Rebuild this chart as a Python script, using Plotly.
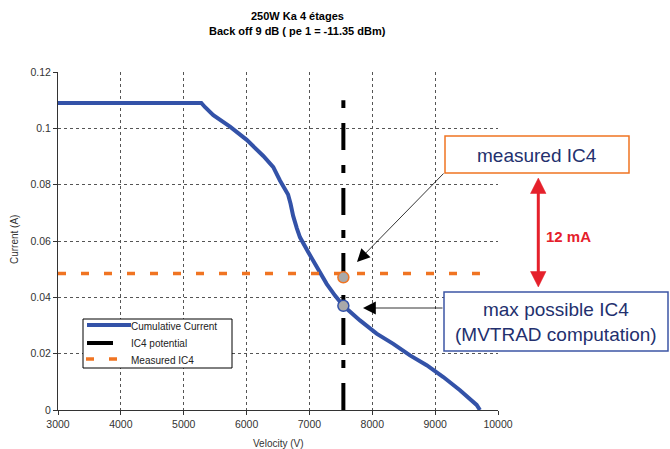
import plotly.graph_objects as go

# ---------------- data ----------------
velocity = [3000, 5280, 5340, 5471, 5736, 6002, 6266, 6425, 6531, 6600, 6660, 6700,
            6740, 6800, 6850, 6982, 7116, 7274, 7407, 7540, 7804, 8069, 8334, 8600,
            8865, 9130, 9395, 9554, 9660, 9713]
current = [0.109, 0.109, 0.1075, 0.1047, 0.1006, 0.0959, 0.0902, 0.0862, 0.0815, 0.0790,
           0.0765, 0.0732, 0.0690, 0.0645, 0.0613, 0.0560, 0.0507, 0.0448, 0.0406, 0.0370,
           0.0318, 0.0271, 0.0235, 0.0194, 0.0159, 0.0117, 0.0070, 0.0041, 0.0018, 0.0]

ic4_potential_x = [7540, 7540]
ic4_potential_y = [0.0, 0.110]

measured_x = [3000, 9713]
measured_y = [0.0485, 0.0485]

measured_point = (7540, 0.0471)
max_point = (7540, 0.0370)

series_names = ["Cumulative Current", "IC4 potential", "Measured IC4"]

x_ticks = [3000, 4000, 5000, 6000, 7000, 8000, 9000, 10000]
x_tick_labels = ["3000", "4000", "5000", "6000", "7000", "8000", "9000", "10000"]
y_ticks = [0, 0.02, 0.04, 0.06, 0.08, 0.1, 0.12]
y_tick_labels = ["0", "0.02", "0.04", "0.06", "0.08", "0.1", "0.12"]

# ---------------- geometry helpers (pixel -> paper) ----------------
W, H = 670, 449
L, R, T, B = 58, 498, 72, 410


def px(x):
    return (x - L) / (R - L)


def py(y):
    return (B - y) / (B - T)


FONT = "Liberation Sans, Arial, sans-serif"
BLUE = "#3352a8"
ORANGE = "#f07422"
NAVY = "#23306e"
RED = "#e5202b"
DASHDOT = "27px,15px,8px,15px"
ORDASH = "8px,15px"

fig = go.Figure()

fig.add_trace(go.Scatter(x=velocity, y=current, mode="lines", name=series_names[0],
                         line=dict(color=BLUE, width=4), showlegend=False))
fig.add_trace(go.Scatter(x=ic4_potential_x, y=ic4_potential_y, mode="lines", name=series_names[1],
                         line=dict(color="black", width=4, dash=DASHDOT), showlegend=False))
fig.add_trace(go.Scatter(x=measured_x, y=measured_y, mode="lines", name=series_names[2],
                         line=dict(color=ORANGE, width=3.5, dash=ORDASH), showlegend=False))
fig.add_trace(go.Scatter(x=[measured_point[0]], y=[measured_point[1]], mode="markers", showlegend=False,
                         marker=dict(size=11, color="#a9a9a9", line=dict(color=ORANGE, width=1.5))))
fig.add_trace(go.Scatter(x=[max_point[0]], y=[max_point[1]], mode="markers", showlegend=False,
                         marker=dict(size=11, color="#a9a9a9", line=dict(color=BLUE, width=1.5))))

axis_common = dict(showgrid=True, gridcolor="#555555", griddash="dot", gridwidth=1,
                   showline=True, linecolor="#333333", linewidth=1, zeroline=False,
                   ticks="outside", ticklen=4, tickcolor="#333333",
                   tickfont=dict(family=FONT, size=10.5, color="#333333"))

fig.update_xaxes(range=[3000, 10000], tickvals=x_ticks, ticktext=x_tick_labels, **axis_common)
fig.update_yaxes(range=[0, 0.12], tickvals=y_ticks, ticktext=y_tick_labels, **axis_common)


def pline(x0, y0, x1, y1, color, width, dash="solid"):
    return dict(type="line", xref="paper", yref="paper", x0=px(x0), x1=px(x1), y0=py(y0), y1=py(y1),
                line=dict(color=color, width=width, dash=dash), layer="above")


shapes = [
    # legend box (manual)
    dict(type="rect", xref="paper", yref="paper", x0=px(83), x1=px(232), y0=py(368), y1=py(319),
         line=dict(color="black", width=1), fillcolor="white", layer="above"),
    pline(87, 325, 131, 325, BLUE, 4),
    pline(87, 343, 113, 343, "black", 4),
    pline(86, 359, 94, 359, ORANGE, 3.5),
    pline(109, 359, 117, 359, ORANGE, 3.5),
    # measured IC4 box
    dict(type="rect", xref="paper", yref="paper", x0=px(445), x1=px(629), y0=py(173), y1=py(136),
         line=dict(color=ORANGE, width=1.5), fillcolor="white", layer="above"),
    # max possible IC4 box
    dict(type="rect", xref="paper", yref="paper", x0=px(444), x1=px(668), y0=py(351), y1=py(292),
         line=dict(color="#3c55a5", width=1.5), fillcolor="white", layer="above"),
    # red double arrow shaft
    pline(538.3, 190, 538.3, 275, RED, 3),
    # red heads
    dict(type="path", xref="paper", yref="paper",
         path=f"M {px(538.3)},{py(178)} L {px(530.5)},{py(193.5)} L {px(546)},{py(193.5)} Z",
         fillcolor=RED, line=dict(color=RED, width=0.5)),
    dict(type="path", xref="paper", yref="paper",
         path=f"M {px(538.3)},{py(287)} L {px(530.5)},{py(271.5)} L {px(546)},{py(271.5)} Z",
         fillcolor=RED, line=dict(color=RED, width=0.5)),
]


def ptext(x, y, text, size, color, xanchor="center", yanchor="middle", **kw):
    return dict(xref="paper", yref="paper", x=px(x), y=py(y), text=text, showarrow=False,
                font=dict(family=FONT, size=size, color=color), xanchor=xanchor, yanchor=yanchor, **kw)


annotations = [
    ptext(297, 16, "<b>250W Ka 4 étages</b>", 11, "black"),
    ptext(297, 31, "<b>Back off 9 dB ( pe 1 = -11.35 dBm)</b>", 11, "black"),
    ptext(14, 240, "Current (A)", 10, "#333333", textangle=-90),
    ptext(278, 436, "Velocity (V)", 10, "#333333", yanchor="top"),
    ptext(537, 155, "measured IC4", 19, NAVY),
    ptext(556, 322, "max possible IC4<br>(MVTRAD computation)", 19, NAVY),
    ptext(568, 236, "<b>12 mA</b>", 15, RED),
    # legend labels
    ptext(129, 326, series_names[0], 10, "#222222", xanchor="left"),
    ptext(129, 343, series_names[1], 10, "#222222", xanchor="left"),
    ptext(129, 360, series_names[2], 10, "#222222", xanchor="left"),
    # thin arrows
    dict(xref="paper", yref="paper", x=px(357), y=py(262), ax=88, ay=-90, text="",
         showarrow=True, arrowhead=2, arrowwidth=0.8, arrowsize=3.2, arrowcolor="black"),
    dict(xref="paper", yref="paper", x=px(363), y=py(308), ax=81, ay=0, text="",
         showarrow=True, arrowhead=2, arrowwidth=0.8, arrowsize=3.2, arrowcolor="black"),
]

fig.update_layout(
    width=W, height=H,
    margin=dict(l=L, r=W - R, t=T, b=H - B, autoexpand=False),
    paper_bgcolor="white", plot_bgcolor="white",
    showlegend=False,
    shapes=shapes,
    annotations=annotations,
    font=dict(family=FONT),
)

fig.write_html("out.html",
               config={"displayModeBar": False},
               post_script="document.body.style.margin='0';document.body.style.overflow='hidden';")
